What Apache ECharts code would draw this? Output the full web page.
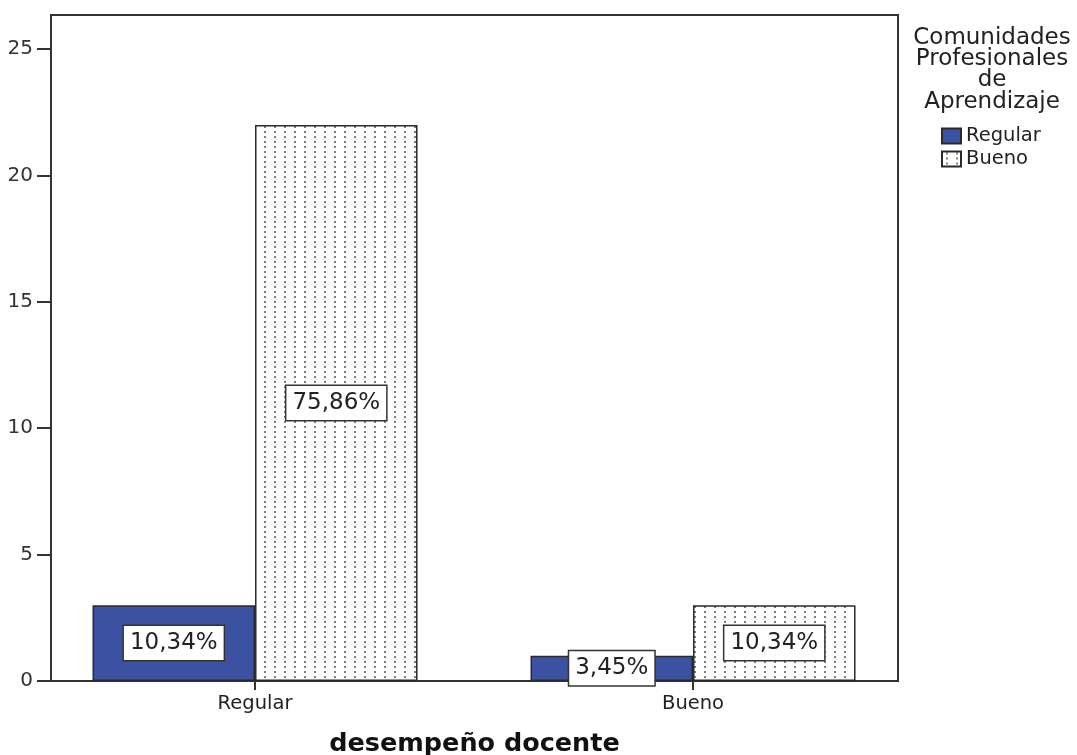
<!DOCTYPE html>
<html>
<head>
<meta charset="utf-8">
<script src="https://cdn.jsdelivr.net/npm/echarts@6/dist/echarts.min.js"></script>
<style>
  html, body { margin: 0; padding: 0; background: #fff; }
  #chart { width: 1077px; height: 755px; }
</style>
</head>
<body>
<div id="chart"></div>
<script>
// Counts per "desempeño docente" category, split by Comunidades Profesionales de Aprendizaje
const categories = ['Regular', 'Bueno'];
const seriesNames = ['Regular', 'Bueno'];
const regularCounts = [3, 1];
const buenoCounts = [22, 3];
const yTickValues = [0, 5, 10, 15, 20, 25];
const yMax = 26.35;

const total = regularCounts.concat(buenoCounts).reduce((a, b) => a + b, 0);
const FONT = 'DejaVu Sans';

// Dotted fill used for the "Bueno" bars
function dotPattern() {
  const c = document.createElement('canvas');
  c.width = 10; c.height = 5;
  const ctx = c.getContext('2d');
  ctx.fillStyle = '#ffffff';
  ctx.fillRect(0, 0, 10, 5);
  ctx.fillStyle = '#7e7e7e';
  ctx.fillRect(4, 1, 2, 2);
  return { image: c, repeat: 'repeat' };
}

const pct = v => (v / total * 100).toFixed(2).replace('.', ',') + '%';

const labelStyle = {
  show: true,
  position: 'inside',
  formatter: p => pct(p.value[1]),
  fontFamily: FONT,
  fontSize: 23,
  lineHeight: 23,
  color: '#222',
  backgroundColor: '#fff',
  borderColor: '#333',
  borderWidth: 1.5,
  padding: [6, 6, 5, 6]
};

const toPoints = arr => arr.map((v, i) => [i, v]);

const chart = echarts.init(document.getElementById('chart'), null, { renderer: 'canvas' });

chart.setOption({
  animation: false,
  backgroundColor: '#fff',
  grid: {
    left: 51, right: 179, top: 15, bottom: 74,
    show: true, borderColor: '#333', borderWidth: 2,
    containLabel: false, outerBoundsMode: 'none'
  },
  legend: {
    orient: 'vertical',
    left: 941, top: 126,
    padding: 0,
    itemWidth: 19, itemHeight: 15, itemGap: 3,
    icon: 'rect',
    data: seriesNames,
    textStyle: { fontFamily: FONT, fontSize: 19.5, color: '#222', lineHeight: 18 }
  },
  graphic: [{
    type: 'text',
    x: 992, y: 27,
    style: {
      text: 'Comunidades\nProfesionales\nde\nAprendizaje',
      textAlign: 'center',
      textVerticalAlign: 'top',
      font: '23px "DejaVu Sans"',
      lineHeight: 21.3,
      fill: '#222'
    }
  }],
  xAxis: {
    type: 'value',
    min: -0.4658, max: 1.468,
    name: 'desempeño docente',
    nameLocation: 'middle',
    nameGap: 50,
    nameTextStyle: { fontFamily: FONT, fontSize: 25.5, fontWeight: 'bold', color: '#111' },
    axisLine: { show: true, onZero: false, lineStyle: { color: '#333', width: 2 } },
    axisTick: { show: true, length: 9, customValues: [0, 1], lineStyle: { color: '#333', width: 2 } },
    axisLabel: {
      customValues: [0, 1],
      formatter: v => categories[Math.round(v)] || '',
      fontFamily: FONT, fontSize: 19.5, color: '#222', margin: 13
    },
    splitLine: { show: false }
  },
  yAxis: {
    type: 'value',
    min: 0, max: yMax,
    axisLine: { show: true, onZero: false, lineStyle: { color: '#333', width: 2 } },
    axisTick: { show: true, length: 14, customValues: yTickValues, lineStyle: { color: '#333', width: 2 } },
    axisLabel: {
      customValues: yTickValues,
      fontFamily: FONT, fontSize: 20, color: '#333', margin: 18
    },
    splitLine: { show: false }
  },
  series: [
    {
      name: seriesNames[0],
      type: 'bar',
      barWidth: 162.5,
      barGap: '0%',
      data: toPoints(regularCounts),
      itemStyle: { color: '#3d51a3', borderColor: '#2a2a2a', borderWidth: 1.5 },
      label: labelStyle
    },
    {
      name: seriesNames[1],
      type: 'bar',
      barWidth: 162.5,
      barGap: '0%',
      data: toPoints(buenoCounts),
      itemStyle: { color: dotPattern(), borderColor: '#2a2a2a', borderWidth: 1.5 },
      label: labelStyle
    }
  ]
});
</script>
</body>
</html>
